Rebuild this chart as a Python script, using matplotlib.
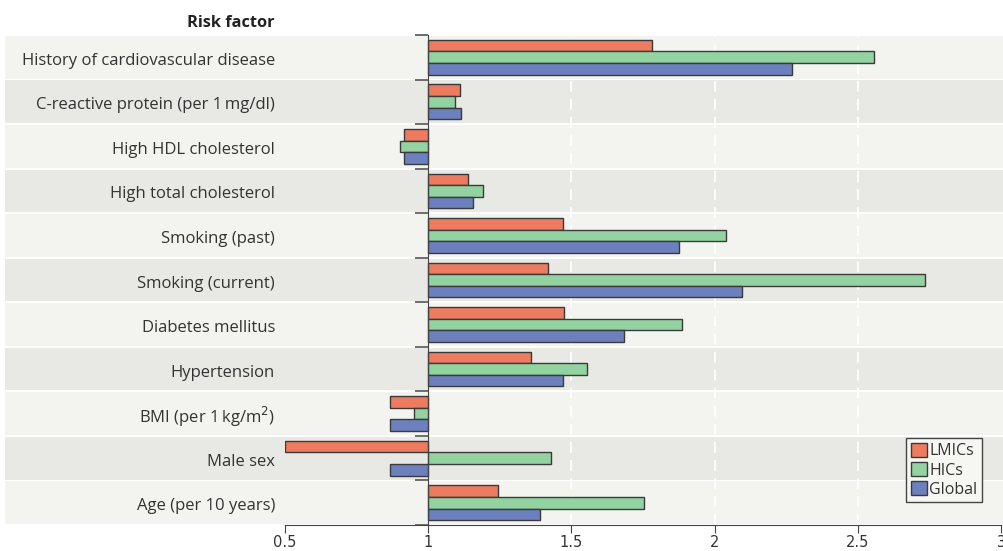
import matplotlib
matplotlib.use("Agg")
import matplotlib.pyplot as plt
from matplotlib.patches import Rectangle
from matplotlib.transforms import blended_transform_factory

# Risk factors, top to bottom
factors = [
    "History of cardiovascular disease",
    "C-reactive protein (per 1\u2009mg/dl)",
    "High HDL cholesterol",
    "High total cholesterol",
    "Smoking (past)",
    "Smoking (current)",
    "Diabetes mellitus",
    "Hypertension",
    "BMI (per 1\u2009kg/m$^2$)",
    "Male sex",
    "Age (per 10 years)",
]
lmics = [1.78, 1.11, 0.915, 1.14, 1.47, 1.42, 1.475, 1.36, 0.865, 0.5, 1.245]
hics = [2.555, 1.095, 0.90, 1.19, 2.04, 2.735, 1.885, 1.555, 0.95, 1.43, 1.755]
global_ = [2.27, 1.115, 0.915, 1.155, 1.875, 2.095, 1.685, 1.47, 0.865, 0.865, 1.39]

series = ["LMICs", "HICs", "Global"]
colors = ["#ec7b60", "#93d3a1", "#6b80bd"]
xticks = [0.5, 1, 1.5, 2, 2.5, 3]
xticklabels = ["0.5", "1", "1.5", "2", "2.5", "3"]

plt.rcParams['font.family'] = ['Open Sans', 'DejaVu Sans']

fig = plt.figure(figsize=(10.04, 5.51), dpi=100)
ax = fig.add_axes([285 / 1004, 26 / 551, 716 / 1004, 490 / 551])
ax.set_xlim(0.5, 3)
ax.set_ylim(len(factors) - 0.5, -0.5)
ax.set_facecolor("none")

# alternating row bands, from the label area to the right edge
trans = blended_transform_factory(fig.transFigure, ax.transData)
for i in range(len(factors)):
    band = "#f3f3ef" if i % 2 == 0 else "#e8e8e4"
    ax.add_patch(Rectangle((5 / 1004, i - 0.48), 1, 0.96, transform=trans,
                           facecolor=band, edgecolor="none", clip_on=False, zorder=0))
    ax.text(275 / 1004, i + 0.08, factors[i], transform=trans, ha="right", va="center",
            fontsize=12.0, color="#333333")

ax.text(275 / 1004, -0.6, "Risk factor", transform=trans, ha="right",
        va="bottom", fontsize=11.8, fontweight="bold", color="#222222")

# white dashed gridlines
for gx in [1.5, 2, 2.5]:
    ax.axvline(gx, color="white", lw=1.3, ls=(0, (6, 4)), zorder=1)

h = 0.26
for k, vals in enumerate([lmics, hics, global_]):
    ys = [i + (k - 1) * h for i in range(len(factors))]
    ax.barh(ys, [v - 1 for v in vals], left=1, height=h, color=colors[k],
            edgecolor="#3a3a3a", linewidth=1.0, label=series[k], zorder=3)

# axis styling
for s in ["top", "right"]:
    ax.spines[s].set_visible(False)
ax.spines["left"].set_position(("data", 1))
ax.spines["left"].set_color("#444444")
ax.spines["left"].set_zorder(4)
ax.spines["bottom"].set_color("#444444")
ax.set_yticks([i - 0.5 for i in range(len(factors) + 1)])
ax.set_yticklabels([])
ax.tick_params(axis="y", direction="out", length=9.5, width=1.2, color="#555555")
ax.set_xticks(xticks)
ax.set_xticklabels(xticklabels, family=["Liberation Sans Narrow", "DejaVu Sans"],
                   fontsize=10.5, color="#333333")
ax.tick_params(axis="x", direction="out", length=6, color="#444444", pad=1)

leg = ax.legend(loc="lower right", bbox_to_anchor=(0.985, 0.03), fontsize=11.5,
                frameon=True, fancybox=False, handlelength=1.0, handleheight=1.0,
                handletextpad=0.15, borderpad=0.3, labelspacing=0.15)
leg.get_frame().set_edgecolor("#444444")
leg.get_frame().set_facecolor("#f6f6f3")
leg.get_frame().set_alpha(1)
for t in leg.get_texts():
    t.set_color("#333333")

fig.savefig("out.png", dpi=100)
